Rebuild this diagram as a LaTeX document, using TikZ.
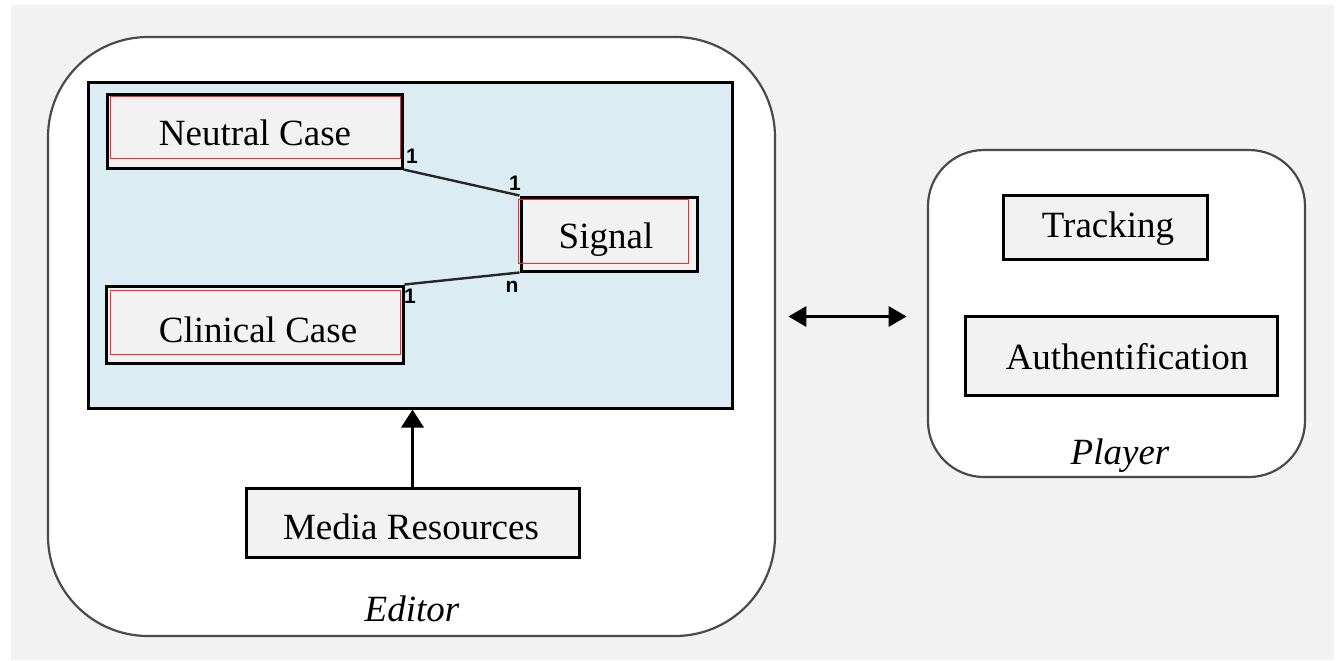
\documentclass[tikz,border=0pt]{standalone}
\usepackage{fontspec}
\setmainfont{Liberation Serif}
\newfontfamily\lblfont{Liberation Sans}
\usetikzlibrary{arrows.meta,calc}
\definecolor{bgray}{HTML}{F2F2F2}
\definecolor{dblue}{HTML}{DBEDF3}
\definecolor{framegray}{HTML}{4A4A4A}
\tikzset{
  container/.style={draw=framegray, line width=1.1pt, fill=white},
  entity/.style={draw=black, line width=1.5pt, fill=bgray, inner sep=0pt},
  etext/.style={font=\fontsize{18.5}{22}\selectfont, inner sep=0pt},
  redframe/.style={draw=red!85!white, line width=0.7pt},
  mult/.style={font=\lblfont\bfseries\fontsize{10.5}{12}\selectfont, inner sep=0pt},
  caption/.style={font=\itshape\fontsize{18.5}{22}\selectfont, inner sep=0pt},
  assoc/.style={line width=1.2pt, draw=black!85},
  uparrow/.style={line width=1.6pt, -{Triangle[width=11pt,length=9pt]}},
  dblarrow/.style={line width=1.6pt, {Triangle[width=10pt,length=9pt]}-{Triangle[width=10pt,length=9pt]}},
}
\begin{document}
\begin{tikzpicture}[x=0.5pt,y=-0.5pt]
\useasboundingbox (0,0) rectangle (1341,660);
\fill[bgray] (11,5) rectangle (1334,660);
% containers
\draw[container, rounded corners=50pt] (48,37) rectangle (775,636);
\node[inner sep=0pt, minimum width=363.5pt, minimum height=299.5pt] (editor) at (411.5,336.5) {};
\draw[container, rounded corners=28pt] (928,150) rectangle (1305,477);
\node[inner sep=0pt, minimum width=188.5pt, minimum height=163.5pt] (player) at (1116.5,313.5) {};
% domain area
\node[draw=black, line width=1.5pt, fill=dblue, minimum width=322pt, minimum height=163pt, inner sep=0pt] (domain) at (410,245) {};
% entities
\node[entity, minimum width=147.5pt, minimum height=37pt] (neutral) at (254.5,131) {};
\draw[redframe] ($(neutral.north west)+(5,4)$) rectangle ($(neutral.south east)+(-3,-11)$);
\node[etext] (neutraltxt) at (255,133) {Neutral Case};

\node[entity, minimum width=88pt, minimum height=37pt] (signal) at (609,234) {};
\draw[redframe] ($(signal.north west)+(-1,4)$) rectangle ($(signal.south east)+(-10,-9)$);
\node[etext] (signaltxt) at (606,240) {Signal};

\node[entity, minimum width=148.5pt, minimum height=38.5pt] (clinical) at (254.5,324.5) {};
\draw[redframe] ($(clinical.north west)+(6,6)$) rectangle ($(clinical.south east)+(-4,-10)$);
\node[etext] (clinicaltxt) at (258,330) {Clinical Case};

\node[entity, minimum width=166.5pt, minimum height=34.5pt] (media) at (412.5,522.5) {};
\node[etext] (mediatxt) at (411,527) {Media Resources};

\node[entity, minimum width=102pt, minimum height=32pt] (tracking) at (1105,227) {};
\node[etext] (trackingtxt) at (1108,229) {Tracking};
\node[entity, minimum width=156pt, minimum height=39.5pt] (auth) at (1121,355.5) {};
\node[etext] (authtxt) at (1127,357) {Authentification};

% associations
\draw[assoc] (neutral.south east) -- (signal.north west);
\draw[assoc] (clinical.north east) -- (signal.south west);
\node[mult] (m1) at (412,156) {1};
\node[mult] (m2) at (515,183) {1};
\node[mult] (m3) at (410,296) {1};
\node[mult] (m4) at (512,287) {n};

% arrows
\draw[uparrow] ([yshift=-1.5pt]media.north) -- (media.north |- domain.south);
\draw[dblarrow] ([xshift=6.5pt,yshift=-1.5pt]editor.east |- player.west) -- ([xshift=-10.5pt,yshift=-1.5pt]player.west);

% captions
\node[caption] (editorlbl) at (412,609) {Editor};
\node[caption] (playerlbl) at (1120,456) {Player};
\end{tikzpicture}
\end{document}
